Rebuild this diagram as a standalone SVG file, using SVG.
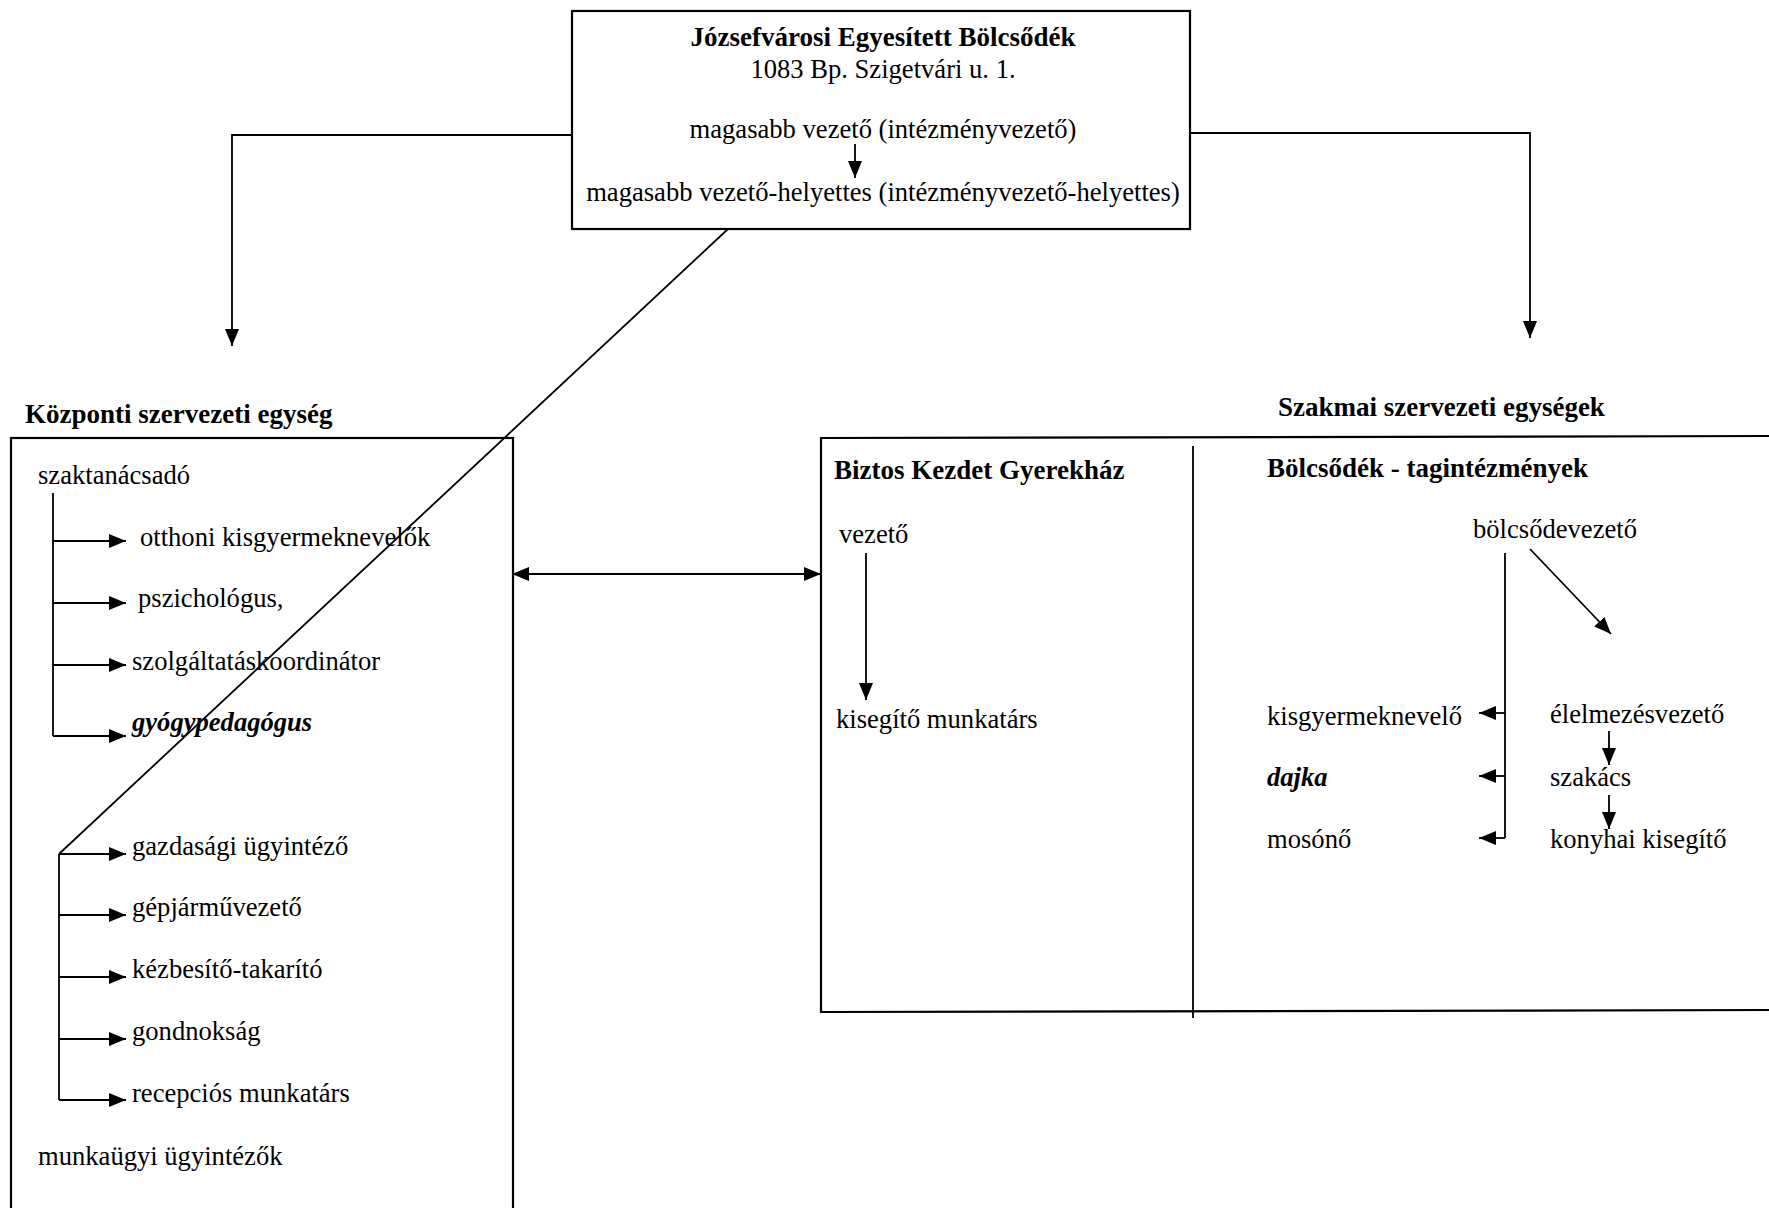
<svg xmlns="http://www.w3.org/2000/svg" width="1769" height="1208" viewBox="0 0 1769 1208">
<style>
text{font-family:"Liberation Serif","Times New Roman",serif;font-size:26.6px;fill:#000}
.b{font-weight:bold;font-size:27px}
.bi{font-weight:bold;font-style:italic}
.box{fill:none;stroke:#000;stroke-width:2.2}
.ln{fill:none;stroke:#000;stroke-width:1.8}
</style>
<defs>
<marker id="ah" markerWidth="18" markerHeight="14" refX="17" refY="7" orient="auto" markerUnits="userSpaceOnUse">
<path d="M0,0 L17,7 L0,14 Z" fill="#000"/>
</marker>
<marker id="ahs" markerWidth="18" markerHeight="14" refX="1" refY="7" orient="auto" markerUnits="userSpaceOnUse">
<path d="M17,0 L0,7 L17,14 Z" fill="#000"/>
</marker>
</defs>
<rect width="1769" height="1208" fill="#fff"/>

<g id="top">
<rect class="box" x="572" y="11" width="618" height="218"/>
<text class="b" x="883" y="46" text-anchor="middle">Józsefvárosi Egyesített Bölcsődék</text>
<text x="883" y="78" text-anchor="middle">1083 Bp. Szigetvári u. 1.</text>
<text x="883" y="138" text-anchor="middle">magasabb vezető (intézményvezető)</text>
<text x="883" y="201" text-anchor="middle">magasabb vezető-helyettes (intézményvezető-helyettes)</text>
</g>

<g id="kozponti">
<text class="b" x="25" y="423">Központi szervezeti egység</text>
<rect class="box" x="11" y="438" width="502" height="790"/>
<text x="38" y="484">szaktanácsadó</text>
<text x="140" y="546">otthoni kisgyermeknevelők</text>
<text x="138" y="607">pszichológus,</text>
<text x="132" y="670">szolgáltatáskoordinátor</text>
<text class="bi" x="132" y="731">gyógypedagógus</text>
<text x="132" y="855">gazdasági ügyintéző</text>
<text x="132" y="916">gépjárművezető</text>
<text x="132" y="978">kézbesítő-takarító</text>
<text x="132" y="1040">gondnokság</text>
<text x="132" y="1102">recepciós munkatárs</text>
<text x="38" y="1165">munkaügyi ügyintézők</text>
</g>

<g id="szakmai">
<text class="b" x="1278" y="416">Szakmai szervezeti egységek</text>
<path class="box" d="M1780,436 L821,438 L821,1012 L1780,1010"/>
<line class="ln" x1="1193" y1="446" x2="1193" y2="1018"/>
</g>

<g id="biztos">
<text class="b" x="834" y="479">Biztos Kezdet Gyerekház</text>
<text x="839" y="543">vezető</text>
<text x="836" y="728">kisegítő munkatárs</text>
</g>

<g id="bolcsodek">
<text class="b" x="1267" y="477">Bölcsődék - tagintézmények</text>
<text x="1473" y="538">bölcsődevezető</text>
<text x="1267" y="725">kisgyermeknevelő</text>
<text class="bi" x="1267" y="786">dajka</text>
<text x="1267" y="848">mosónő</text>
<text x="1550" y="723">élelmezésvezető</text>
<text x="1550" y="786">szakács</text>
<text x="1550" y="848">konyhai kisegítő</text>
</g>

<g id="connectors">
<line class="ln" x1="855" y1="144" x2="855" y2="178" marker-end="url(#ah)"/>
<polyline class="ln" points="572,135 232,135 232,346" marker-end="url(#ah)"/>
<polyline class="ln" points="1190,133 1530,133 1530,338" marker-end="url(#ah)"/>
<line class="ln" x1="728" y1="229" x2="59" y2="854"/>
<line class="ln" x1="513" y1="574" x2="821" y2="574" marker-start="url(#ahs)" marker-end="url(#ah)"/>
<line class="ln" x1="53" y1="493" x2="53" y2="736"/>
<line class="ln" x1="53" y1="541" x2="126" y2="541" marker-end="url(#ah)"/>
<line class="ln" x1="53" y1="603" x2="126" y2="603" marker-end="url(#ah)"/>
<line class="ln" x1="53" y1="665" x2="126" y2="665" marker-end="url(#ah)"/>
<line class="ln" x1="53" y1="736" x2="126" y2="736" marker-end="url(#ah)"/>
<line class="ln" x1="59" y1="854" x2="59" y2="1100"/>
<line class="ln" x1="59" y1="854" x2="126" y2="854" marker-end="url(#ah)"/>
<line class="ln" x1="59" y1="915" x2="126" y2="915" marker-end="url(#ah)"/>
<line class="ln" x1="59" y1="977" x2="126" y2="977" marker-end="url(#ah)"/>
<line class="ln" x1="59" y1="1039" x2="126" y2="1039" marker-end="url(#ah)"/>
<line class="ln" x1="59" y1="1100" x2="126" y2="1100" marker-end="url(#ah)"/>
<line class="ln" x1="866" y1="553" x2="866" y2="700" marker-end="url(#ah)"/>
<line class="ln" x1="1505" y1="553" x2="1505" y2="838"/>
<line class="ln" x1="1505" y1="713" x2="1479" y2="713" marker-end="url(#ah)"/>
<line class="ln" x1="1505" y1="776" x2="1479" y2="776" marker-end="url(#ah)"/>
<line class="ln" x1="1505" y1="838" x2="1479" y2="838" marker-end="url(#ah)"/>
<line class="ln" x1="1530" y1="549" x2="1611" y2="634" marker-end="url(#ah)"/>
<line class="ln" x1="1609" y1="731" x2="1609" y2="765" marker-end="url(#ah)"/>
<line class="ln" x1="1609" y1="795" x2="1609" y2="829" marker-end="url(#ah)"/>
</g>
</svg>
